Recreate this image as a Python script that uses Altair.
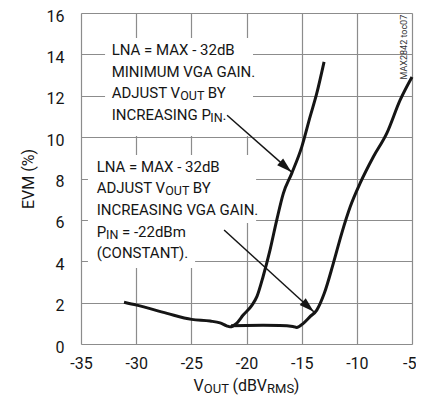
import altair as alt
import pandas as pd

FONT = "Roboto"
INK = "#151515"

# Curve A: LNA = MAX - 32dB, minimum VGA gain, VOUT adjusted by increasing PIN
a_x = [-31.1, -29.95, -27.2, -24.97, -23.3, -22.4, -21.8, -21.5, -20.9, -20.3,
       -19.5, -19.05, -18.5, -17.87, -17.26, -16.66, -15.9, -14.99, -14.24, -13.64, -12.97]
a_y = [2.02, 1.88, 1.48, 1.19, 1.11, 1.02, 0.88, 0.83, 1.0, 1.4,
       1.88, 2.3, 3.25, 4.54, 5.99, 7.28, 8.25, 9.53, 10.98, 12.1, 13.64]

# Curve B: LNA = MAX - 32dB, VOUT adjusted by increasing VGA gain, PIN = -22dBm
b_x = [-21.4, -20.0, -18.5, -17.0, -15.8, -15.45, -14.85, -14.24, -13.63, -12.95,
       -12.13, -11.37, -10.6, -9.71, -8.5, -7.29, -6.08, -5.0]
b_y = [0.88, 0.9, 0.91, 0.9, 0.85, 0.8, 1.0, 1.32, 1.64, 2.45,
       3.9, 5.35, 6.63, 7.76, 9.05, 10.18, 11.79, 12.91]

x_ticks = [-35, -30, -25, -20, -15, -10, -5]
y_ticks = [0, 2, 4, 6, 8, 10, 12, 14, 16]

# annotation lines: list of runs (text, is_subscript), start x, baseline y (data units)
ann_lines = [
    ([("LNA = MAX - 32dB", 0)], -32.22, 13.97),
    ([("MINIMUM VGA GAIN.", 0)], -32.22, 12.92),
    ([("ADJUST V", 0), ("OUT", 1), (" BY", 0)], -32.22, 11.88),
    ([("INCREASING P", 0), ("IN", 1), (".", 0)], -32.22, 10.83),
    ([("LNA = MAX - 32dB", 0)], -33.58, 8.33),
    ([("ADJUST V", 0), ("OUT", 1), (" BY", 0)], -33.58, 7.28),
    ([("INCREASING VGA GAIN.", 0)], -33.58, 6.23),
    ([("P", 0), ("IN", 1), (" = -22dBm", 0)], -33.58, 5.19),
    ([("(CONSTANT).", 0)], -33.58, 4.14),
]
# x-axis title runs, centred under the plot
xtitle_runs = [("V", 0), ("OUT", 1), (" (dBV", 0), ("RMS", 1), (")", 0)]
xtitle_center, xtitle_y = -20.0, -2.27

# white label backgrounds (x1, x2, y1, y2)
box_x1 = [-32.82, -34.37, -34.37]
box_x2 = [-19.41, -19.13, -24.66]
box_y1 = [10.05, 5.85, 3.67]
box_y2 = [14.79, 9.13, 5.85]

# arrows: start and tip
arr_x1 = [-21.76, -22.03]
arr_y1 = [11.06, 5.51]
arr_x2 = [-15.93, -13.9]
arr_y2 = [8.32, 1.56]
arr_angle = [41.4, 42.3]

# ---- text run layout (approximate Roboto advance widths, em) ----
W = {" ": .248, "A": .652, "B": .622, "C": .652, "D": .655, "E": .567, "G": .681, "I": .272,
     "J": .552, "L": .539, "M": .853, "N": .696, "O": .673, "P": .630, "R": .615, "S": .594,
     "T": .597, "U": .633, "V": .637, "X": .612, "Y": .600, "(": .342, ")": .348, ".": .263,
     "-": .270, "=": .548, "d": .561, "m": .873}
PX_PER_X = 331 / 30.0
PX_PER_Y = 331 / 16.0


def text_w(s, size):
    return sum(W.get(c, .562) for c in s) * size


def layout(runs, x0, y0, main, sub, rows):
    x = x0
    for txt, is_sub in runs:
        size = sub if is_sub else main
        lead = len(txt) - len(txt.lstrip(" "))
        x += text_w(" " * lead, size) / PX_PER_X
        body = txt.lstrip(" ")
        rows.append({"t": body, "x": x, "y": y0 - (2 / PX_PER_Y if is_sub else 0), "s": size})
        x += text_w(body, size) / PX_PER_X


ann_rows = []
for runs, x0, y0 in ann_lines:
    layout(runs, x0, y0, 15, 12.5, ann_rows)

xt_rows = []
tw = sum(text_w(t, 13 if s else 16) for t, s in xtitle_runs) / PX_PER_X
layout(xtitle_runs, xtitle_center - tw / 2, xtitle_y, 16, 13, xt_rows)

xs = alt.Scale(domain=[-35, -5], nice=False, zero=False)
ys = alt.Scale(domain=[0, 16], nice=False, zero=False)

curves = pd.DataFrame({
    "x": a_x + b_x,
    "y": a_y + b_y,
    "curve": ["A"] * len(a_x) + ["B"] * len(b_x),
    "i": list(range(len(a_x))) + list(range(len(b_x))),
})
ann = pd.DataFrame(ann_rows + xt_rows)
boxes = pd.DataFrame({"x1": box_x1, "x2": box_x2, "y1": box_y1, "y2": box_y2})
arrows = pd.DataFrame({"x1": arr_x1, "y1": arr_y1, "x2": arr_x2, "y2": arr_y2, "a": arr_angle})
grid_df = pd.DataFrame({"x": [-35], "y": [0]})

axis_common = dict(grid=True, domain=False, ticks=False, tickSize=0, labelFontSize=16,
                   labelFont=FONT, labelColor=INK, gridColor="#8c8c8c", gridWidth=1.2,
                   labelFlush=False, labelOverlap=False, labelExpr="toString(datum.value)")

base_axes = alt.Chart(grid_df).mark_point(opacity=0).encode(
    x=alt.X("x:Q", scale=xs, axis=alt.Axis(
        values=x_ticks, title=None, labelPadding=11,
        labelAlign={"condition": {"test": "datum.value == -5", "value": "right"}, "value": "center"},
        labelOffset={"condition": {"test": "datum.value == -5", "value": 4}, "value": 0},
        **axis_common)),
    y=alt.Y("y:Q", scale=ys, axis=alt.Axis(values=y_ticks, title="EVM (%)", labelPadding=17,
                                           labelOffset=3,
                                           titleFont=FONT, titleFontSize=16, titleFontWeight="normal",
                                           titleColor=INK, titleX=-48, titleY=165.5,
                                           titleAngle=270, titleAlign="center",
                                           titleBaseline="alphabetic", **axis_common)),
)

box_layer = alt.Chart(boxes).mark_rect(color="white").encode(
    x=alt.X("x1:Q", scale=xs), x2="x2:Q", y=alt.Y("y1:Q", scale=ys), y2="y2:Q")

line_layer = alt.Chart(curves).mark_line(color=INK, strokeWidth=3, interpolate="monotone").encode(
    x=alt.X("x:Q", scale=xs), y=alt.Y("y:Q", scale=ys), detail="curve:N", order="i:Q")

arrow_lines = alt.Chart(arrows).mark_rule(color=INK, strokeWidth=1.5).encode(
    x=alt.X("x1:Q", scale=xs), y=alt.Y("y1:Q", scale=ys), x2="x2:Q", y2="y2:Q")

arrow_heads = alt.Chart(arrows).mark_point(
    shape="M0,0L-2,-0.6L-2,0.6Z", filled=True, color=INK, opacity=1, size=225, strokeWidth=0
).encode(x=alt.X("x2:Q", scale=xs), y=alt.Y("y2:Q", scale=ys), angle=alt.Angle("a:Q", scale=None))

ann_layer = alt.Chart(ann).mark_text(align="left", baseline="alphabetic", font=FONT, color=INK).encode(
    x=alt.X("x:Q", scale=xs), y=alt.Y("y:Q", scale=ys), text="t:N", size=alt.Size("s:Q", scale=None))

tag = pd.DataFrame({"t": ["MAX2842 toc07"], "x": [-5.75], "y": [14.35]})
tag_layer = alt.Chart(tag).mark_text(angle=270, align="center", baseline="middle", font=FONT,
                                     fontSize=9, color="#333").encode(
    x=alt.X("x:Q", scale=xs), y=alt.Y("y:Q", scale=ys), text="t:N")

chart = alt.layer(base_axes, box_layer, line_layer, arrow_lines, arrow_heads, ann_layer, tag_layer
).properties(
    width=331, height=331,
    autosize=alt.AutoSizeParams(type="none"),
    padding={"left": 73, "top": 5, "right": 4, "bottom": 52},
).configure_view(stroke=INK, strokeWidth=3.4
).configure(background="white")

chart.save("out.html", embed_options={"renderer": "svg", "actions": False})
